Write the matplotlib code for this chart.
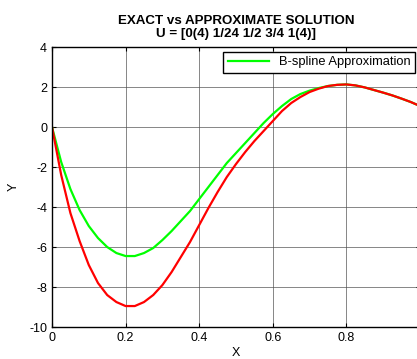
import matplotlib
matplotlib.use("Agg")
import matplotlib.pyplot as plt

plt.rcParams['font.family'] = ['Liberation Sans', 'DejaVu Sans']
plt.rcParams['axes.unicode_minus'] = False

# sample points
x_exact = [0, 0.025, 0.05, 0.075, 0.1, 0.125, 0.15, 0.175, 0.2, 0.225, 0.25,
           0.275, 0.3, 0.325, 0.35, 0.375, 0.4, 0.425, 0.45, 0.475, 0.5,
           0.525, 0.55, 0.575, 0.6, 0.625, 0.65, 0.675, 0.7, 0.725, 0.75,
           0.775, 0.8, 0.825, 0.85, 0.875, 0.9, 0.925, 0.95, 0.975, 1.0]
y_exact = [0, -2.4, -4.3, -5.7, -6.9, -7.8, -8.4, -8.75, -8.95, -8.95, -8.75,
           -8.4, -7.9, -7.25, -6.5, -5.75, -4.9, -4.05, -3.25, -2.5, -1.85,
           -1.25, -0.7, -0.2, 0.3, 0.8, 1.2, 1.5, 1.75, 1.92, 2.05,
           2.11, 2.13, 2.08, 1.98, 1.85, 1.72, 1.58, 1.42, 1.25, 1.05]

x_approx = x_exact
y_approx = [0, -1.75, -3.1, -4.15, -4.95, -5.55, -6.0, -6.3, -6.45, -6.45, -6.3,
            -6.05, -5.65, -5.2, -4.7, -4.2, -3.6, -3.0, -2.4, -1.8, -1.3,
            -0.8, -0.3, 0.2, 0.65, 1.05, 1.4, 1.65, 1.82, 1.95, 2.05,
            2.11, 2.13, 2.08, 1.98, 1.85, 1.72, 1.58, 1.42, 1.25, 1.05]

xticks = [0, 0.2, 0.4, 0.6, 0.8, 1.0]
xticklabels = ['0', '0.2', '0.4', '0.6', '0.8', '']
yticks = [-10, -8, -6, -4, -2, 0, 2, 4]

fig = plt.figure(figsize=(4.17, 3.59), dpi=100)
ax = fig.add_axes([0.1247, 0.089, 0.8825, 0.78])

ax.plot(x_approx, y_approx, color=(0, 1, 0), linewidth=1.6, label='B-spline Approximation')
ax.plot(x_exact, y_exact, color=(1, 0, 0), linewidth=1.6)

ax.set_xlim(0, 1)
ax.set_ylim(-10, 4)
ax.set_xticks(xticks)
ax.set_yticks(yticks)
ax.set_xticklabels(xticklabels)
ax.tick_params(direction='in', length=3, labelsize=9, top=True, right=True)
ax.grid(True, color='#505050', linewidth=0.6, alpha=0.8)
for s in ax.spines.values():
    s.set_linewidth(1.0)

ax.set_xlabel('X', fontsize=9, labelpad=2)
ax.set_ylabel('Y', fontsize=9, labelpad=7)
ax.set_title('EXACT vs APPROXIMATE SOLUTION\nU = [0(4) 1/24 1/2 3/4 1(4)]',
             fontsize=9.6, fontweight='bold', pad=7, linespacing=1.2)

leg = ax.legend(loc='upper right', fontsize=9.3, fancybox=False, framealpha=1,
                edgecolor='black', borderaxespad=0.35, handlelength=3.2,
                borderpad=0.35)
leg.get_frame().set_linewidth(1.0)

fig.savefig('out.png', dpi=100)
